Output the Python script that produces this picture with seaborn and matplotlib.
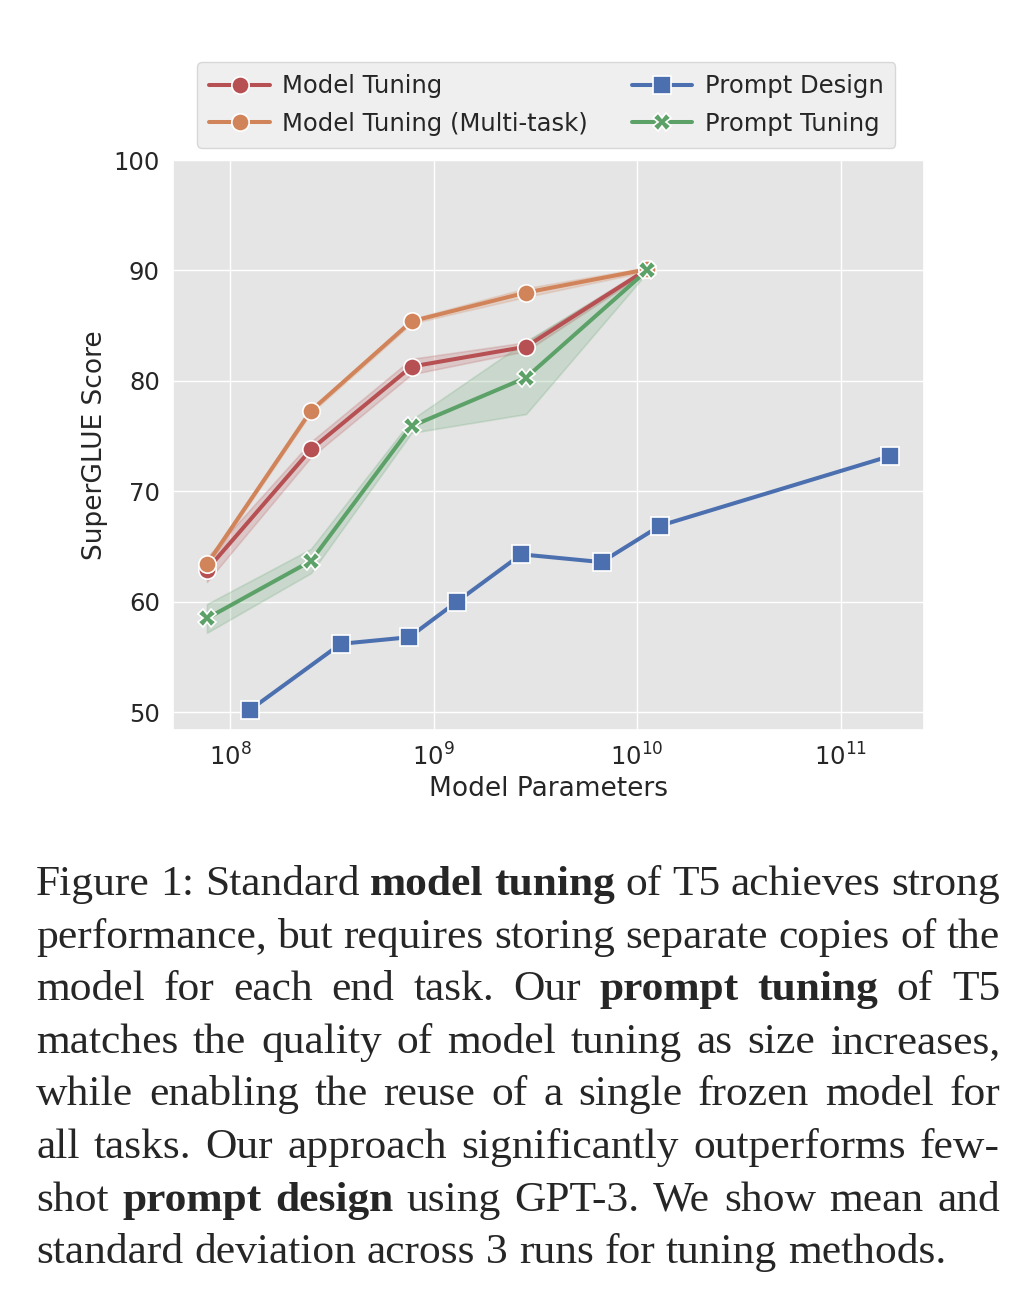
import numpy as np
import pandas as pd
import matplotlib
matplotlib.use("Agg")
import matplotlib.pyplot as plt
import seaborn as sns

# Datos (media y desviación estándar)
t5_params = [7.7e7, 2.5e8, 7.8e8, 2.85e9, 1.12e10]
gpt3_params = [1.25e8, 3.5e8, 7.6e8, 1.3e9, 2.7e9, 6.7e9, 1.3e10, 1.75e11]

model_tuning = [62.9, 73.8, 81.3, 83.1, 90.1]
model_tuning_sd = [1.1, 0.7, 0.7, 0.4, 0.2]
multi_task = [63.4, 77.3, 85.4, 88.0, 90.1]
multi_task_sd = [0.2, 0.2, 0.2, 0.4, 0.2]
prompt_tuning = [58.5, 63.7, 75.9, 80.3, 90.0]
prompt_tuning_sd = [1.3, 1.1, 0.6, 3.3, 0.2]
prompt_design = [50.2, 56.2, 56.8, 60.0, 64.3, 63.6, 66.9, 73.2]

methods = ["Model Tuning", "Model Tuning (Multi-task)", "Prompt Design", "Prompt Tuning"]
colors = {"Model Tuning": "#B65053", "Model Tuning (Multi-task)": "#D1845A",
          "Prompt Design": "#4C70AF", "Prompt Tuning": "#5CA168"}
markers = {"Model Tuning": "o", "Model Tuning (Multi-task)": "o",
           "Prompt Design": "s", "Prompt Tuning": "X"}

# Tabla larga para seaborn
df = pd.concat([
    pd.DataFrame({"params": t5_params, "score": model_tuning, "method": methods[0]}),
    pd.DataFrame({"params": t5_params, "score": multi_task, "method": methods[1]}),
    pd.DataFrame({"params": gpt3_params, "score": prompt_design, "method": methods[2]}),
    pd.DataFrame({"params": t5_params, "score": prompt_tuning, "method": methods[3]}),
])

sns.set_theme(style="darkgrid", rc={"axes.facecolor": "#E5E5E5"})

fig = plt.figure(figsize=(10.24, 12.9), dpi=100)
ax = fig.add_axes([173 / 1024, 1 - 730 / 1290, 751 / 1024, 570 / 1290])

# Bandas de desviación estándar
bands = [(model_tuning, model_tuning_sd, methods[0]),
         (multi_task, multi_task_sd, methods[1]),
         (prompt_tuning, prompt_tuning_sd, methods[3])]
for mean, sd, name in bands:
    mean = np.array(mean)
    sd = np.array(sd)
    ax.fill_between(t5_params, mean - sd, mean + sd, color=colors[name], alpha=0.2, linewidth=1.2)

sns.lineplot(data=df, x="params", y="score", hue="method", style="method",
             hue_order=methods, style_order=methods, palette=colors,
             markers=markers, dashes=False, linewidth=2.9, markersize=12.5,
             markeredgecolor="white", markeredgewidth=1.2, ax=ax)

ax.set_xscale("log")
ax.set_xlim(10 ** 7.72, 10 ** 11.41)
ax.set_ylim(48.4, 100)
ax.set_yticks([50, 60, 70, 80, 90, 100])
ax.minorticks_off()
ax.tick_params(labelsize=17.5)
ax.set_xlabel("Model Parameters", fontsize=19)
ax.set_ylabel("SuperGLUE Score", fontsize=19)

handles, labels = ax.get_legend_handles_labels()
ax.legend(handles, labels, ncol=2, loc="lower center", bbox_to_anchor=(0.497, 1.0),
          fontsize=17.5, frameon=True, facecolor="#EBEBEB", edgecolor="#D0D0D0",
          handlelength=2.5, handletextpad=0.5, columnspacing=1.8, borderpad=0.5,
          labelspacing=0.55)

# Pie de figura justificado
caption = [
    [("Figure", 0), ("1:", 0), ("Standard", 0), ("model", 1), ("tuning", 1), ("of", 0), ("T5", 0), ("achieves", 0), ("strong", 0)],
    [("performance,", 0), ("but", 0), ("requires", 0), ("storing", 0), ("separate", 0), ("copies", 0), ("of", 0), ("the", 0)],
    [("model", 0), ("for", 0), ("each", 0), ("end", 0), ("task.", 0), ("Our", 0), ("prompt", 1), ("tuning", 1), ("of", 0), ("T5", 0)],
    [("matches", 0), ("the", 0), ("quality", 0), ("of", 0), ("model", 0), ("tuning", 0), ("as", 0), ("size", 0), ("increases,", 0)],
    [("while", 0), ("enabling", 0), ("the", 0), ("reuse", 0), ("of", 0), ("a", 0), ("single", 0), ("frozen", 0), ("model", 0), ("for", 0)],
    [("all", 0), ("tasks.", 0), ("Our", 0), ("approach", 0), ("significantly", 0), ("outperforms", 0), ("few-", 0)],
    [("shot", 0), ("prompt", 1), ("design", 1), ("using", 0), ("GPT-3.", 0), ("We", 0), ("show", 0), ("mean", 0), ("and", 0)],
    [("standard", 0), ("deviation", 0), ("across", 0), ("3", 0), ("runs", 0), ("for", 0), ("tuning", 0), ("methods.", 0)],
]
x_left, x_right = 36, 1000
base_y, line_gap = 895, 52.6
font_px = 31.3
renderer = fig.canvas.get_renderer()
for i, words in enumerate(caption):
    y = 1 - (base_y + i * line_gap) / 1290
    texts = []
    for w, b in words:
        t = fig.text(0, y, w, fontsize=font_px, family="Liberation Serif",
                     fontweight="bold" if b else "normal", va="baseline", ha="left")
        texts.append(t)
    widths = [t.get_window_extent(renderer).width for t in texts]
    if i < len(caption) - 1:
        gap = (x_right - x_left - sum(widths)) / (len(texts) - 1)
    else:
        gap = font_px * 100 / 72 * 0.25
    x = x_left
    for t, wd in zip(texts, widths):
        t.set_x(x / 1024)
        x += wd + gap

fig.savefig("out.png", dpi=100)
